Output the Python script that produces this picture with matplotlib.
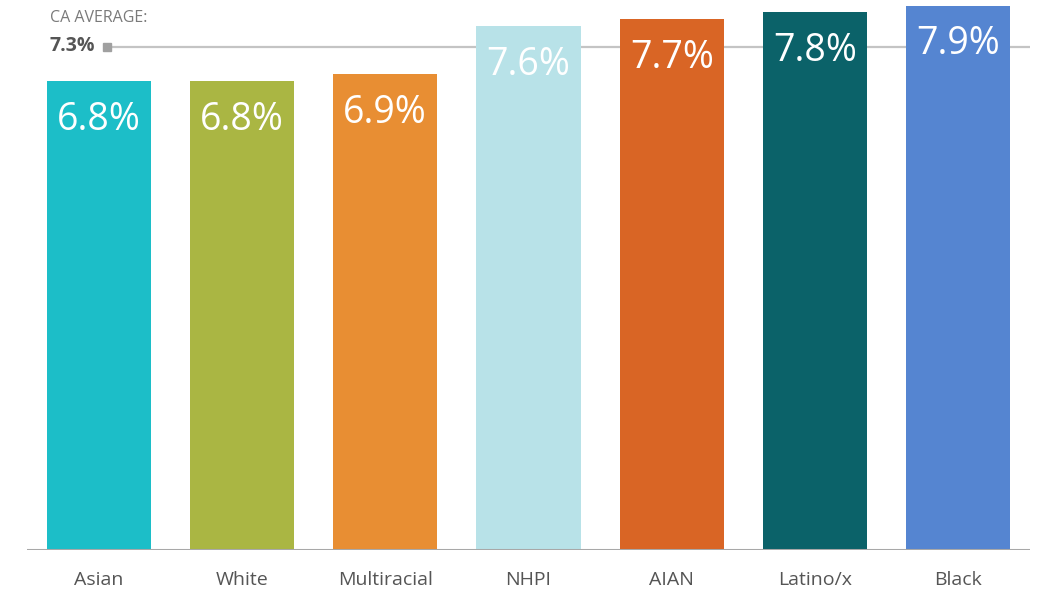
import matplotlib.pyplot as plt

# Data
groups = ['Asian', 'White', 'Multiracial', 'NHPI', 'AIAN', 'Latino/x', 'Black']
rates = [6.8, 6.8, 6.9, 7.6, 7.7, 7.8, 7.9]
value_labels = ['6.8%', '6.8%', '6.9%', '7.6%', '7.7%', '7.8%', '7.9%']
colors = ['#1CBEC8', '#AAB643', '#E88E33', '#B8E2E8', '#D96525', '#0B6269', '#5585D1']
ca_average = 7.3

plt.rcParams['font.family'] = ['Open Sans', 'DejaVu Sans']

fig = plt.figure(figsize=(10.38, 5.90), dpi=100)
ax = fig.add_axes([27 / 1038, 40 / 590, (1030 - 27) / 1038, 550 / 590])

x = list(range(len(groups)))

# CA average line, drawn behind the bars
ax.plot([0.06, 6.5], [ca_average, ca_average], color='#C4C4C4', linewidth=1.6, zorder=1,
        solid_capstyle='butt')
ax.plot([0.06], [ca_average], marker='s', markersize=6, color='#A0A0A0', zorder=2)

ax.bar(x, rates, width=0.727, color=colors, zorder=3)

# value labels inside the bars
for xi, r, lab in zip(x, rates, value_labels):
    ax.text(xi, r - 0.56, lab, ha='center', va='center', color='white',
            fontsize=27, zorder=4)

ax.axhline(0, color='#A8A8A8', linewidth=2.2, zorder=5)

ax.set_xlim(-0.5, 6.5)
ax.set_ylim(0, 7.98)
ax.set_xticks(x)
ax.set_xticklabels(groups, fontsize=14, color='#555555')
ax.tick_params(axis='x', length=0, pad=15)
ax.set_yticks([])
for s in ax.spines.values():
    s.set_visible(False)

fig.text(50 / 1038, 1 - 18 / 590, 'CA AVERAGE:', fontsize=11.5, color='#7A7A7A',
         va='center', ha='left')
fig.text(50 / 1038, 1 - 46 / 590, '7.3%', fontsize=14, color='#555555', fontweight='bold',
         va='center', ha='left')

fig.savefig('out.png', dpi=100)
